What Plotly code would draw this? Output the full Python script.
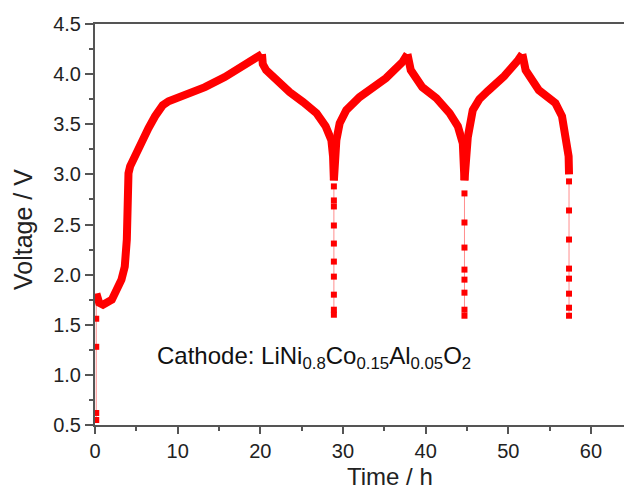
import plotly.graph_objects as go

# Continuous (dense) galvanostatic segments: time (h), voltage (V)
charge1_t = [0.17, 0.5, 0.97, 2.04, 3.2, 3.6, 3.85, 3.88, 3.95, 4.05, 4.25, 4.86, 5.66, 6.46, 7.27, 8.2, 8.9, 10.9, 13.3, 15.7, 18.1, 19.9, 20.2]
charge1_v = [1.81, 1.72, 1.70, 1.75, 1.95, 2.08, 2.35, 2.68, 2.90, 3.01, 3.08, 3.19, 3.34, 3.46, 3.58, 3.69, 3.73, 3.79, 3.87, 3.97, 4.09, 4.19, 4.20]

dis1_t = [20.2, 20.3, 20.7, 21.95, 23.56, 25.2, 26.8, 27.9, 28.6, 28.8, 28.9]
dis1_v = [4.20, 4.10, 4.04, 3.94, 3.82, 3.72, 3.61, 3.48, 3.34, 3.18, 2.94]

charge2_t = [28.9, 29.0, 29.2, 29.6, 30.4, 32.0, 33.4, 35.2, 37.2, 37.8]
charge2_v = [2.94, 3.15, 3.34, 3.51, 3.64, 3.77, 3.86, 3.96, 4.12, 4.20]

dis2_t = [37.8, 37.9, 38.2, 39.6, 41.3, 42.9, 43.9, 44.5, 44.65, 44.7]
dis2_v = [4.20, 4.10, 4.04, 3.87, 3.76, 3.61, 3.48, 3.31, 3.10, 2.94]

charge3_t = [44.7, 44.8, 45.1, 45.7, 46.5, 47.5, 49.5, 51.2, 51.7]
charge3_v = [2.94, 3.15, 3.37, 3.64, 3.75, 3.83, 3.98, 4.14, 4.20]

dis3_t = [51.7, 51.8, 52.1, 53.7, 55.7, 56.5, 57.0, 57.3, 57.35]
dis3_v = [4.20, 4.10, 4.04, 3.84, 3.71, 3.58, 3.38, 3.18, 3.00]

# Sparse points (fast voltage changes)
drop0_t = [0.15, 0.15, 0.15, 0.15, 0.15]
drop0_v = [0.55, 0.62, 1.28, 1.56, 1.78]
drop1_t = [28.9, 28.9, 28.9, 28.9, 28.9, 28.9, 28.9, 28.9, 28.9, 28.9]
drop1_v = [2.88, 2.74, 2.68, 2.49, 2.31, 2.13, 1.98, 1.80, 1.65, 1.60]
drop2_t = [44.7, 44.7, 44.7, 44.7, 44.7, 44.7, 44.7, 44.7]
drop2_v = [2.81, 2.52, 2.27, 2.05, 1.95, 1.82, 1.65, 1.59]
drop3_t = [57.35, 57.35, 57.35, 57.35, 57.35, 57.35, 57.35, 57.35]
drop3_v = [2.93, 2.64, 2.35, 2.06, 1.96, 1.81, 1.67, 1.59]

RED = "#ff0000"
FONT = "Liberation Sans, Arial, sans-serif"

def join(*pairs):
    xs, ys = [], []
    for t, v in pairs:
        xs += list(t) + [None]
        ys += list(v) + [None]
    return xs, ys

fig = go.Figure()

dx, dy = join((drop0_t, drop0_v), (drop1_t, drop1_v), (drop2_t, drop2_v), (drop3_t, drop3_v))
fig.add_trace(go.Scatter(x=dx, y=dy, mode="lines+markers",
                         line=dict(color="rgba(255,0,0,0.45)", width=1),
                         marker=dict(symbol="square", size=6, color=RED),
                         showlegend=False))

cx, cy = join((charge1_t, charge1_v), (dis1_t, dis1_v), (charge2_t, charge2_v),
              (dis2_t, dis2_v), (charge3_t, charge3_v), (dis3_t, dis3_v))
fig.add_trace(go.Scatter(x=cx, y=cy, mode="lines",
                         line=dict(color=RED, width=8),
                         showlegend=False))

fig.add_annotation(x=7.2, y=1.17, xref="x", yref="y", xanchor="left", yanchor="middle",
                   text="Cathode: LiNi<sub>0.8</sub>Co<sub>0.15</sub>Al<sub>0.05</sub>O<sub>2</sub>",
                   showarrow=False, font=dict(family=FONT, size=24, color="#111"))

# axis titles placed as in the reference
fig.add_annotation(x=347.5 / 624, y=-52 / 401, xref="paper", yref="paper",
                   xanchor="center", yanchor="middle", text="Time / h", showarrow=False,
                   borderpad=0, font=dict(family=FONT, size=24, color="#222"))
fig.add_annotation(x=-72 / 529, y=(425 - 230) / 401, xref="paper", yref="paper",
                   xanchor="center", yanchor="middle", text="Voltage / V", showarrow=False,
                   textangle=-90, font=dict(family=FONT, size=25, color="#222"))

axis_common = dict(showline=True, linecolor="#555", linewidth=2, ticks="outside",
                   tickcolor="#555", tickwidth=1.5, showgrid=False, zeroline=False,
                   tickfont=dict(family=FONT, size=20, color="#222"))

fig.update_xaxes(range=[0, 64], dtick=10, tick0=0, ticklen=7, mirror=True,
                 minor=dict(dtick=5, ticks="outside", ticklen=4, tickcolor="#555", tickwidth=1.5),
                 **axis_common)
fig.update_yaxes(range=[0.5, 4.5], dtick=0.5, tick0=0.5, ticklen=8, tickformat=".1f",
                 minor=dict(dtick=0.25, ticks="outside", ticklen=4, tickcolor="#555", tickwidth=1.5),
                 **axis_common)

fig.update_layout(width=624, height=493, margin=dict(l=95, r=0, t=24, b=68),
                  plot_bgcolor="white", paper_bgcolor="white")

fig.write_html("out.html")
